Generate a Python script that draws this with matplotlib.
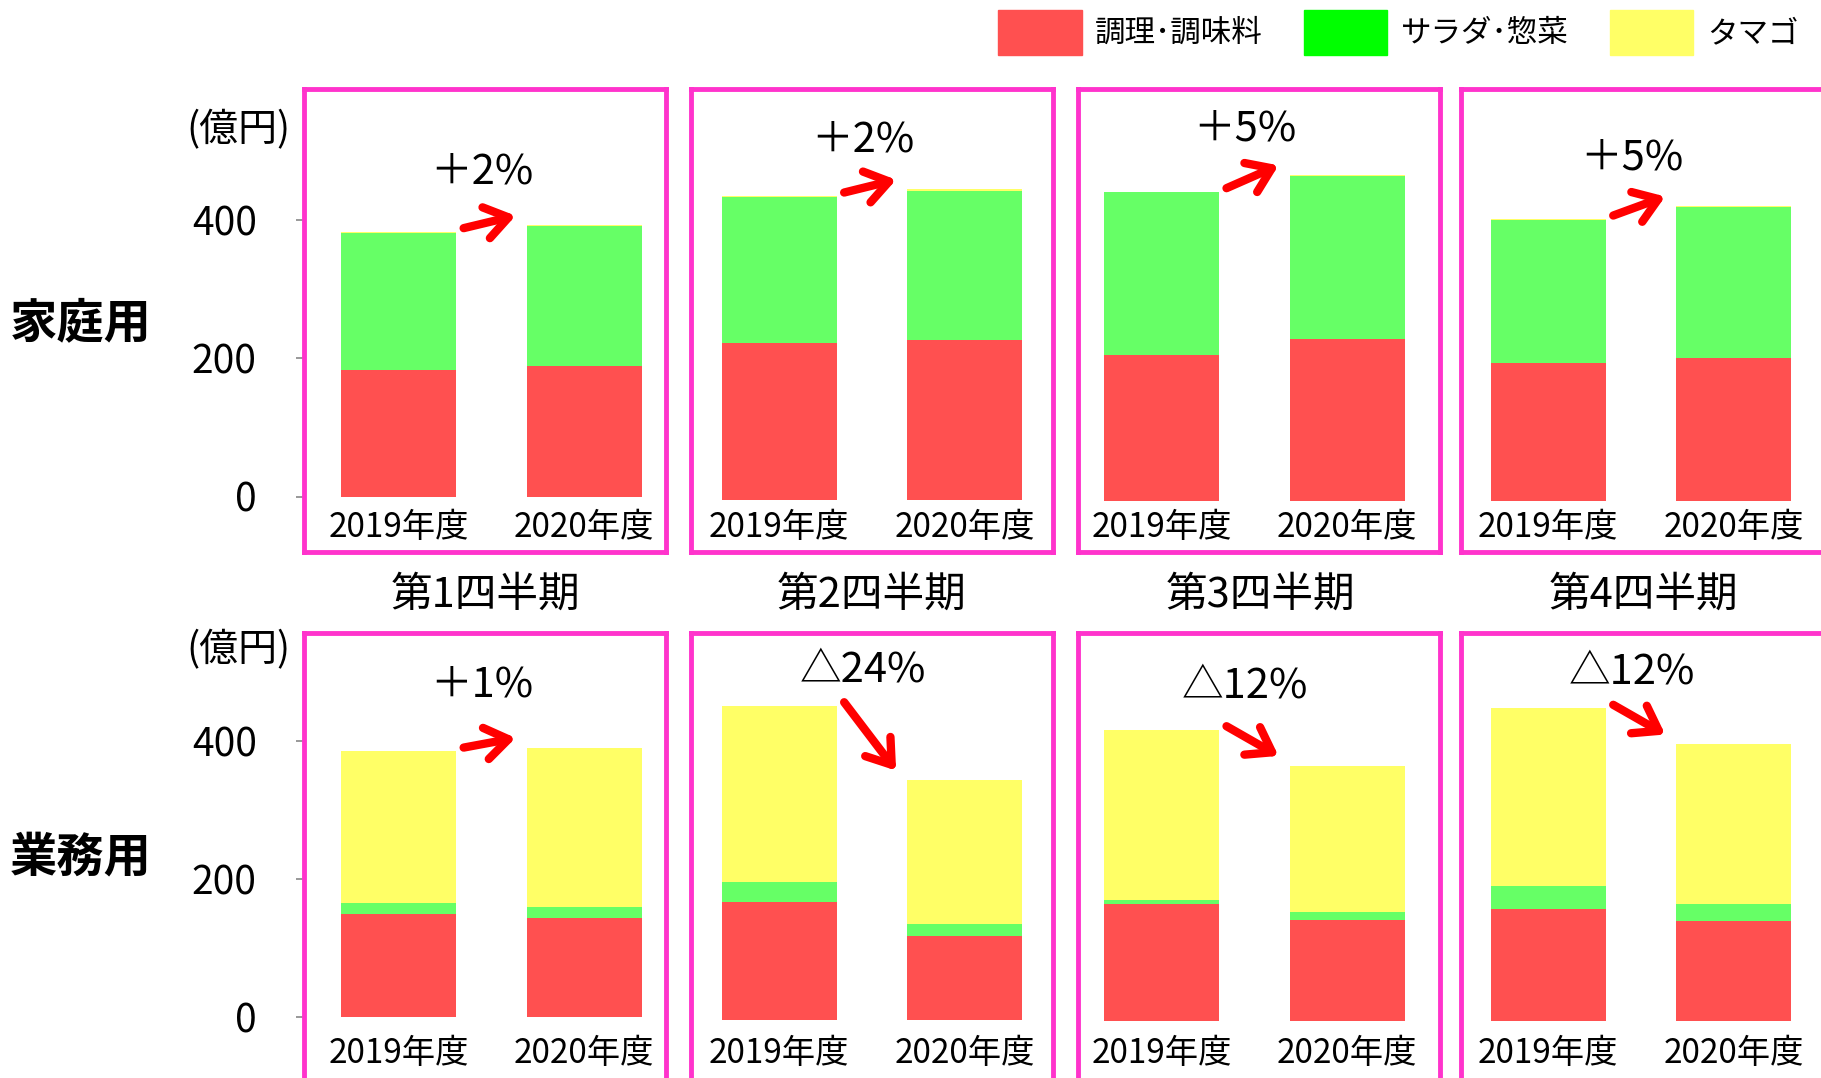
import matplotlib
matplotlib.use("Agg")
import matplotlib.pyplot as plt
import matplotlib.transforms as mtransforms
from matplotlib.patches import Patch

plt.rcParams['font.family'] = ['Noto Sans CJK JP', 'DejaVu Sans']

# data (億円)
years = ['2019年度', '2020年度']
quarters = ['第1四半期', '第2四半期', '第3四半期', '第4四半期']
series = ['調理･調味料', 'サラダ･惣菜', 'タマゴ']

home_cook = [[183, 188], [227, 231], [210, 233], [198, 206]]
home_salad = [[198, 202], [210, 215], [235, 236], [207, 218]]
home_egg = [[1.5, 1.5], [2, 2.5], [1, 1], [1.5, 1]]
home_change = ['＋2%', '＋2%', '＋5%', '＋5%']

biz_cook = [[149, 143], [171, 121], [168, 146], [161, 144]]
biz_salad = [[16, 16], [29, 18], [6, 11], [34, 24]]
biz_egg = [[220, 231], [255, 208], [247, 212], [257, 232]]
biz_change = ['＋1%', '△24%', '△12%', '△12%']

yticks = [0, 200, 400]

# colours
c_cook = '#FF5050'
c_salad = '#66FF66'
c_salad_leg = '#00FF00'
c_egg = '#FFFF66'
c_frame = '#FF33CC'

W, H = 1821, 1078
fig = plt.figure(figsize=(W / 100, H / 100), dpi=100)

# layout in pixels
panel_left = [304, 691, 1078, 1461]
x_shift = [-0.01, 0.025, 0.05, 0.03]
panel_w = 362
panel_h = 463
rows = [
    dict(top=89, base=[496.5, 500, 500.5, 500.5], scale=0.6925,
         cook=home_cook, salad=home_salad, egg=home_egg, change=home_change,
         label_y=[468, 520, 537, 495], year_y=527, unit_y=130,
         name='家庭用', name_y=323),
    dict(top=632.6, base=[1017, 1020, 1020.5, 1020.5], scale=0.6908,
         cook=biz_cook, salad=biz_salad, egg=biz_egg, change=biz_change,
         label_y=[480, 506, 484, 504], year_y=1054, unit_y=650,
         name='業務用', name_y=857),
]

x = [0, 1]
bw = 0.62

for row in rows:
    bottom_px = row['top'] + panel_h
    for i in range(4):
        ax = fig.add_axes([panel_left[i] / W, 1 - bottom_px / H, panel_w / W, panel_h / H])
        base = row['base'][i]
        s = row['scale']
        ax.set_ylim(-(bottom_px - base) / s, (base - row['top']) / s)
        ax.set_xlim(-0.5 + x_shift[i], 1.45 + x_shift[i])

        cook = row['cook'][i]
        salad = row['salad'][i]
        egg = row['egg'][i]
        ax.bar(x, cook, bw, color=c_cook)
        ax.bar(x, salad, bw, bottom=cook, color=c_salad)
        b2 = [a + b for a, b in zip(cook, salad)]
        ax.bar(x, egg, bw, bottom=b2, color=c_egg)
        tot = [a + b for a, b in zip(b2, egg)]

        ax.annotate('', xy=(0.63, tot[1] + 14), xytext=(0.35, tot[0] + 5),
                    arrowprops=dict(arrowstyle='->,head_length=0.55,head_width=0.38',
                                    color='red', lw=6, mutation_scale=30,
                                    shrinkA=0, shrinkB=0))
        ax.text(0.45, row['label_y'][i], row['change'][i], ha='center', va='center',
                fontsize=30)

        trans = mtransforms.blended_transform_factory(ax.transData, fig.transFigure)
        for xi, yl in zip(x, years):
            ax.text(xi, 1 - row['year_y'] / H, yl, transform=trans,
                    ha='center', va='center', fontsize=24)

        for sp in ax.spines.values():
            sp.set_color(c_frame)
            sp.set_linewidth(3.5)
        ax.set_xticks([])
        if i == 0:
            ax.set_yticks(yticks)
            ax.tick_params(axis='y', length=6, width=1.2, color='#888888',
                           pad=28, labelsize=28)
        else:
            ax.set_yticks([])

    fig.text(238 / W, 1 - row['unit_y'] / H, '(億円)', ha='center', va='center', fontsize=28)
    fig.text(81 / W, 1 - row['name_y'] / H, row['name'], ha='center', va='center',
             fontsize=34, fontweight='bold')

quarter_cx = [485, 872, 1260, 1643]
for cx, q in zip(quarter_cx, quarters):
    fig.text(cx / W, 1 - 595 / H, q, ha='center', va='center', fontsize=30)

handles = [Patch(color=c_cook), Patch(color=c_salad_leg), Patch(color=c_egg)]
fig.legend(handles, series, loc='upper right', bbox_to_anchor=(1826 / W, 1 + 18 / H),
           ncol=3, frameon=False, fontsize=22, handlelength=2.72, handleheight=1.93,
           handletextpad=0.45, columnspacing=1.35)

fig.savefig('out.png', dpi=100)
